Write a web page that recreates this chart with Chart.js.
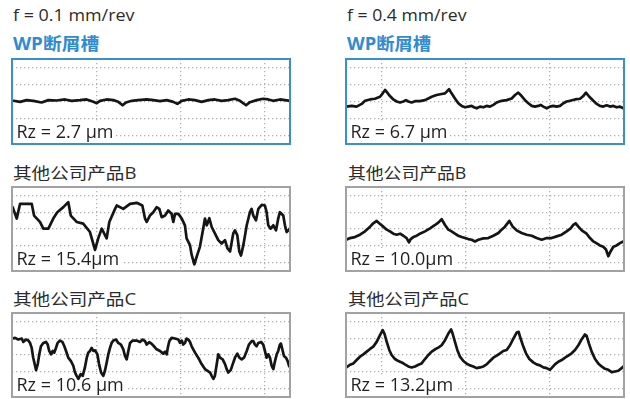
<!DOCTYPE html>
<html>
<head>
<meta charset="utf-8">
<script src="https://cdn.jsdelivr.net/npm/chart.js@4/dist/chart.umd.min.js"></script>
<style>
  html, body { margin: 0; padding: 0; background: #fff; width: 630px; height: 399px; overflow: hidden; }
  .t { position: absolute; white-space: nowrap; line-height: 1; transform-origin: 0 0;
       font-family: 'Open Sans', 'Noto Sans CJK SC', sans-serif; color: #2b2b2b; }
  .feed { font-size: 16px; }
  .wp { font-size: 17px; font-weight: 700; color: #2f8bd2; }
  .other { font-size: 16px; }
  canvas { position: absolute; }
</style>
</head>
<body>
<div class="t feed" style="left:12.5px;top:6.5px" data-w="122">f = 0.1 mm/rev</div>
<div class="t feed" style="left:346.5px;top:6.5px" data-w="120">f = 0.4 mm/rev</div>
<div class="t wp" style="left:13px;top:34.5px" data-w="86">WP断屑槽</div>
<div class="t wp" style="left:346.5px;top:34.5px" data-w="84">WP断屑槽</div>
<div class="t other" style="left:13px;top:165.3px" data-w="123">其他公司产品B</div>
<div class="t other" style="left:348px;top:165.3px" data-w="118">其他公司产品B</div>
<div class="t other" style="left:13px;top:291.3px" data-w="123">其他公司产品C</div>
<div class="t other" style="left:348px;top:291.3px" data-w="121">其他公司产品C</div>

<script>
// Surface roughness profiles: [position along the workpiece (mm), height (µm)]

// WP chip breaker, feed 0.1 mm/rev
const profileWP_f01 = [[0,0.3],[0.048,-0.1],[0.087,0.4],[0.127,0.2],[0.176,-0.3],[0.216,0.4],[0.265,0.3],[0.315,0.6],[0.354,0.2],[0.404,0.4],[0.443,0.6],[0.483,-0.1],[0.503,-0.5],[0.523,0.2],[0.562,0.6],[0.602,0.4],[0.631,-0.1],[0.657,-1.1],[0.677,-0.3],[0.711,0.2],[0.750,0.4],[0.800,0.6],[0.839,0.4],[0.879,0.1],[0.919,0.4],[0.958,-0.1],[0.982,-0.7],[1.008,0.2],[1.047,0.6],[1.087,0.4],[1.126,-0.1],[1.166,0.4],[1.205,0.6],[1.245,0.2],[1.284,0.4],[1.324,0.8],[1.354,0.2],[1.390,-1.1],[1.413,-0.2],[1.453,0.4],[1.492,0.8],[1.522,0.6],[1.552,0.2],[1.591,0.6],[1.621,0.4],[1.651,0.2]];

// WP chip breaker, feed 0.4 mm/rev
const profileWP_f04 = [[0.29,-1.5],[0.322,-1.3],[0.351,-1.5],[0.381,-0.7],[0.401,0.2],[0.431,0.6],[0.460,0.8],[0.490,1.4],[0.506,2.4],[0.520,3.4],[0.533,2.6],[0.549,1.6],[0.569,0.6],[0.589,0.0],[0.609,-0.3],[0.629,0.0],[0.644,0.4],[0.658,0.0],[0.678,-0.3],[0.698,0.1],[0.727,0.1],[0.757,0.4],[0.777,0.9],[0.797,1.4],[0.826,1.9],[0.856,2.2],[0.876,2.4],[0.900,3.6],[0.915,2.4],[0.935,0.9],[0.955,-0.5],[0.975,-1.3],[0.995,-1.7],[1.014,-1.5],[1.034,-1.3],[1.048,-1.7],[1.064,-2.0],[1.084,-1.5],[1.104,-1.7],[1.123,-1.3],[1.143,-1.5],[1.163,-1.0],[1.183,-0.3],[1.212,0.2],[1.242,0.4],[1.272,0.9],[1.292,1.9],[1.311,2.6],[1.331,1.6],[1.351,0.4],[1.371,-0.5],[1.391,-1.3],[1.410,-1.5],[1.430,-1.3],[1.444,-1.0],[1.460,-1.5],[1.480,-2.0],[1.499,-1.5],[1.519,-1.3],[1.539,-1.5],[1.559,-1.3],[1.579,-0.5],[1.598,0.0],[1.618,0.2],[1.648,0.6],[1.678,0.8],[1.697,1.6],[1.713,2.6],[1.733,1.4],[1.757,0.2],[1.777,-0.7],[1.796,-1.3],[1.816,-1.5],[1.836,-1.1],[1.856,-1.5],[1.876,-1.3],[1.895,-1.7],[1.915,-1.5],[1.935,-2.0]];

// Competitor B, feed 0.1 mm/rev
const profileB_f01 = [[0.004,6.5],[0.028,3.1],[0.048,7.5],[0.117,7.5],[0.131,4.0],[0.166,2.1],[0.186,0.1],[0.216,0.1],[0.245,3.1],[0.269,5.0],[0.305,6.5],[0.334,8.0],[0.349,4.0],[0.384,2.1],[0.423,1.6],[0.463,-0.9],[0.493,-6.2],[0.512,-2.8],[0.533,0.1],[0.562,-2.8],[0.578,2.1],[0.612,6.0],[0.622,7.0],[0.661,6.0],[0.701,7.5],[0.741,7.8],[0.774,7.0],[0.790,3.1],[0.800,2.1],[0.819,4.0],[0.839,5.0],[0.859,6.5],[0.875,6.0],[0.889,3.5],[0.909,4.0],[0.928,5.5],[0.948,4.5],[0.958,2.1],[0.968,4.5],[0.988,4.5],[1.008,3.1],[1.027,1.1],[1.037,-2.8],[1.057,-4.8],[1.067,-7.7],[1.083,-10.5],[1.097,-8.2],[1.116,-5.3],[1.132,-0.9],[1.146,3.1],[1.157,1.1],[1.172,3.2],[1.186,0.6],[1.205,-1.3],[1.225,-3.3],[1.245,-4.3],[1.265,-3.3],[1.279,-5.7],[1.295,-6.7],[1.314,-1.3],[1.324,-0.4],[1.338,-1.8],[1.350,-6.7],[1.360,-7.9],[1.374,-4.8],[1.394,1.1],[1.413,5.0],[1.423,6.0],[1.433,4.0],[1.449,2.6],[1.463,6.0],[1.483,7.2],[1.502,7.0],[1.512,5.0],[1.522,1.1],[1.536,0.1],[1.552,1.1],[1.568,-0.4],[1.581,3.1],[1.591,5.0],[1.611,4.0],[1.621,1.1],[1.631,-0.9],[1.641,-0.4],[1.651,0.2]];

// Competitor B, feed 0.4 mm/rev
const profileB_f04 = [[0.29,-3.2],[0.312,-2.7],[0.341,-2.4],[0.371,-1.7],[0.401,-0.7],[0.431,0.7],[0.450,1.7],[0.470,2.4],[0.490,1.5],[0.510,0.7],[0.530,-0.2],[0.549,-0.7],[0.569,-1.4],[0.589,-1.7],[0.609,-1.4],[0.629,-2.0],[0.648,-2.7],[0.662,-4.0],[0.672,-3.0],[0.688,-2.4],[0.708,-2.0],[0.727,-1.4],[0.757,-0.7],[0.787,0.2],[0.817,1.2],[0.836,1.9],[0.856,2.9],[0.876,1.2],[0.896,-0.2],[0.915,-0.7],[0.935,-1.4],[0.955,-2.0],[0.975,-2.4],[0.995,-2.7],[1.014,-3.0],[1.034,-3.2],[1.054,-3.7],[1.074,-3.2],[1.104,-2.8],[1.133,-2.7],[1.163,-2.0],[1.193,-1.2],[1.212,-0.2],[1.232,0.7],[1.258,2.4],[1.278,0.7],[1.301,-0.4],[1.331,-1.2],[1.361,-1.7],[1.391,-2.0],[1.420,-2.7],[1.450,-3.2],[1.480,-2.7],[1.509,-2.7],[1.539,-2.2],[1.569,-1.7],[1.598,-0.7],[1.622,0.2],[1.638,1.2],[1.652,1.7],[1.668,0.7],[1.688,-0.4],[1.717,-1.4],[1.737,-2.7],[1.757,-3.7],[1.777,-4.3],[1.796,-4.9],[1.816,-5.3],[1.832,-6.1],[1.846,-8.1],[1.860,-6.6],[1.876,-5.3],[1.895,-4.9],[1.915,-4.2],[1.935,-3.7]];

// Competitor C, feed 0.1 mm/rev
const profileC_f01 = [[0.004,4.9],[0.018,5.1],[0.037,4.6],[0.058,4.9],[0.067,3.9],[0.083,4.6],[0.097,4.3],[0.107,3.6],[0.117,2.1],[0.126,-0.8],[0.137,-3.2],[0.143,-4.5],[0.153,-2.7],[0.162,0.2],[0.172,2.6],[0.186,3.6],[0.202,3.9],[0.212,3.1],[0.221,1.2],[0.232,0.2],[0.242,1.2],[0.251,0.7],[0.261,2.1],[0.271,3.6],[0.285,4.3],[0.299,3.9],[0.311,2.6],[0.321,1.2],[0.334,-0.8],[0.350,-1.8],[0.364,-3.2],[0.374,-5.2],[0.384,-6.2],[0.394,-7.1],[0.408,-5.7],[0.420,-6.2],[0.433,-3.7],[0.444,-0.8],[0.453,0.7],[0.463,1.2],[0.473,2.1],[0.483,1.2],[0.493,1.4],[0.507,0.2],[0.517,-2.7],[0.529,-5.2],[0.542,-6.2],[0.552,-4.7],[0.562,-2.3],[0.572,0.2],[0.582,2.1],[0.592,3.6],[0.602,4.3],[0.618,4.6],[0.631,3.6],[0.647,3.1],[0.661,1.7],[0.671,-0.3],[0.681,-1.3],[0.691,1.2],[0.701,3.6],[0.717,4.3],[0.740,4.3],[0.760,3.9],[0.776,4.6],[0.790,4.1],[0.800,3.1],[0.815,3.8],[0.830,3.3],[0.843,2.6],[0.859,1.7],[0.879,1.2],[0.898,0.4],[0.909,1.0],[0.919,0.2],[0.925,2.1],[0.934,4.1],[0.948,5.1],[0.968,4.9],[0.988,4.6],[0.998,3.6],[1.008,4.3],[1.017,3.1],[1.027,3.6],[1.037,4.9],[1.047,4.6],[1.057,3.9],[1.067,2.6],[1.087,0.7],[1.106,-0.8],[1.126,-2.7],[1.146,-4.2],[1.166,-4.9],[1.176,-5.2],[1.186,-6.2],[1.196,-7.1],[1.205,-6.2],[1.216,-2.7],[1.225,0.2],[1.235,-0.8],[1.251,-1.3],[1.265,-2.7],[1.275,-4.2],[1.284,-5.2],[1.299,-4.5],[1.311,-2.7],[1.324,-0.8],[1.338,0.4],[1.350,-0.8],[1.364,-1.3],[1.378,-0.8],[1.394,1.2],[1.407,3.1],[1.423,4.1],[1.433,4.1],[1.443,3.1],[1.453,2.6],[1.463,3.6],[1.479,3.9],[1.492,3.1],[1.502,1.2],[1.512,-0.8],[1.522,0.2],[1.532,-0.8],[1.542,-3.2],[1.552,-4.2],[1.562,-1.8],[1.572,0.2],[1.581,1.2],[1.591,3.1],[1.597,3.4],[1.608,1.2],[1.615,-0.3],[1.627,-0.8],[1.637,-1.8],[1.645,-3.2],[1.651,-3.6]];

// Competitor C, feed 0.4 mm/rev
const profileC_f04 = [[0.29,-3.7],[0.312,-2.9],[0.332,-2.5],[0.351,-1.5],[0.371,-0.5],[0.391,0.2],[0.411,1.0],[0.431,1.8],[0.450,2.5],[0.470,3.9],[0.490,5.9],[0.506,7.4],[0.516,6.4],[0.530,3.9],[0.545,1.5],[0.559,0.0],[0.579,-1.2],[0.599,-1.8],[0.619,-2.2],[0.638,-2.8],[0.658,-3.4],[0.678,-3.7],[0.698,-3.4],[0.718,-2.9],[0.737,-2.5],[0.757,-1.2],[0.777,0.0],[0.797,1.0],[0.817,1.7],[0.836,2.2],[0.856,2.9],[0.876,4.4],[0.896,6.4],[0.912,7.6],[0.921,6.4],[0.935,3.9],[0.949,1.5],[0.965,-0.5],[0.985,-1.8],[1.005,-2.6],[1.024,-3.1],[1.044,-3.4],[1.064,-3.9],[1.084,-3.7],[1.104,-3.4],[1.123,-2.8],[1.143,-1.8],[1.163,-0.8],[1.183,-0.2],[1.203,0.5],[1.222,1.2],[1.242,1.5],[1.262,2.9],[1.282,4.9],[1.302,6.7],[1.313,6.9],[1.325,4.9],[1.341,2.5],[1.357,0.5],[1.377,-1.2],[1.400,-2.2],[1.420,-2.8],[1.440,-3.1],[1.460,-3.7],[1.480,-3.9],[1.499,-4.4],[1.509,-3.9],[1.529,-2.8],[1.549,-2.0],[1.569,-1.5],[1.589,-0.8],[1.608,-0.2],[1.628,0.5],[1.648,1.5],[1.668,2.9],[1.688,4.7],[1.707,6.1],[1.717,5.7],[1.731,3.4],[1.747,1.0],[1.767,-1.2],[1.786,-2.5],[1.806,-3.4],[1.826,-4.1],[1.846,-4.4],[1.866,-5.1],[1.886,-4.9],[1.905,-4.7],[1.925,-3.9],[1.935,-3.4]];

// Rz readings shown in each panel
const rzLabels = ['Rz = 2.7 µm', 'Rz = 6.7 µm', 'Rz = 15.4µm', 'Rz = 10.0µm', 'Rz = 10.6 µm', 'Rz = 13.2µm'];

const GRID_STEP_X = 0.5;   // mm
const GRID_STEP_Y = 5;     // µm
const SPAN_X = 1.651;      // mm shown per panel
const RANGE_Y = 12.5;      // µm, each side of the mean line

// Stretch each heading to its set width
document.querySelectorAll('.t').forEach(el => {
  const target = parseFloat(el.dataset.w);
  el.style.transform = 'scaleX(' + (target / el.offsetWidth) + ')';
});

// Rz reading sits on a white patch over the grid, beneath the profile
const rzLabelPlugin = {
  id: 'rzLabel',
  beforeDatasetsDraw(chart, args, opts) {
    const { ctx, chartArea: a } = chart;
    ctx.save();
    ctx.font = '18px "Open Sans", sans-serif';
    const w = ctx.measureText(opts.text).width;
    const x = a.left + 4.5, base = a.bottom - 6.5;
    ctx.fillStyle = '#fff';
    ctx.fillRect(a.left, base - 16, w + 7, a.bottom - base + 16);
    ctx.fillStyle = '#231f20';
    ctx.textBaseline = 'alphabetic';
    ctx.fillText(opts.text, x, base);
    ctx.restore();
  }
};

// Panel frame
const framePlugin = {
  id: 'frame',
  afterDatasetsDraw(chart, args, opts) {
    const { ctx, chartArea: a } = chart;
    ctx.save();
    ctx.strokeStyle = opts.color;
    ctx.lineWidth = 2;
    ctx.strokeRect(a.left, a.top, a.right - a.left, a.bottom - a.top);
    ctx.restore();
  }
};

// Grid lines on every whole multiple of the step, inside the panel only
function gridAt(step) {
  return scale => {
    const ticks = [];
    for (let k = Math.ceil(scale.min / step); k * step < scale.max - 1e-9; k++) {
      const v = k * step;
      if (v > scale.min + 1e-9) ticks.push({ value: v });
    }
    scale.ticks = ticks;
  };
}

const gridStyle = { color: '#b0b0b0', lineWidth: 1.3, drawTicks: false };
const gridBorder = { display: false, dash: [1.3, 2.7] };

function profileChart(box, points, xMin, label, frameColor) {
  const canvas = document.createElement('canvas');
  canvas.width = box.w + 4;
  canvas.height = box.h + 4;
  canvas.style.left = (box.x - 2) + 'px';
  canvas.style.top = (box.y - 2) + 'px';
  canvas.style.width = (box.w + 4) + 'px';
  canvas.style.height = (box.h + 4) + 'px';
  document.body.appendChild(canvas);

  return new Chart(canvas, {
    type: 'line',
    data: {
      datasets: [{
        data: points.map(([x, y]) => ({ x, y })),
        borderColor: '#151515',
        borderWidth: 2.7,
        borderJoinStyle: 'round',
        borderCapStyle: 'round',
        pointRadius: 0,
        tension: 0
      }]
    },
    options: {
      responsive: false,
      animation: false,
      events: [],
      layout: { padding: 2 },
      scales: {
        x: {
          type: 'linear', min: xMin, max: xMin + SPAN_X,
          ticks: { display: false },
          grid: gridStyle, border: gridBorder,
          afterBuildTicks: gridAt(GRID_STEP_X)
        },
        y: {
          type: 'linear', min: -RANGE_Y, max: RANGE_Y,
          ticks: { display: false },
          grid: gridStyle, border: gridBorder,
          afterBuildTicks: gridAt(GRID_STEP_Y)
        }
      },
      plugins: {
        legend: { display: false },
        tooltip: { enabled: false },
        rzLabel: { text: label },
        frame: { color: frameColor }
      }
    },
    plugins: [rzLabelPlugin, framePlugin]
  });
}

const BLUE = '#3a8fd4', GREY = '#a2a2a2';
profileChart({ x: 12,  y: 59,  w: 278, h: 85 }, profileWP_f01, 0,     rzLabels[0], BLUE);
profileChart({ x: 346, y: 59,  w: 278, h: 85 }, profileWP_f04, 0.288, rzLabels[1], BLUE);
profileChart({ x: 12,  y: 187, w: 278, h: 84 }, profileB_f01,  0,     rzLabels[2], GREY);
profileChart({ x: 346, y: 187, w: 278, h: 84 }, profileB_f04,  0.288, rzLabels[3], GREY);
profileChart({ x: 12,  y: 313, w: 278, h: 84 }, profileC_f01,  0,     rzLabels[4], GREY);
profileChart({ x: 346, y: 313, w: 278, h: 84 }, profileC_f04,  0.288, rzLabels[5], GREY);
</script>
</body>
</html>
